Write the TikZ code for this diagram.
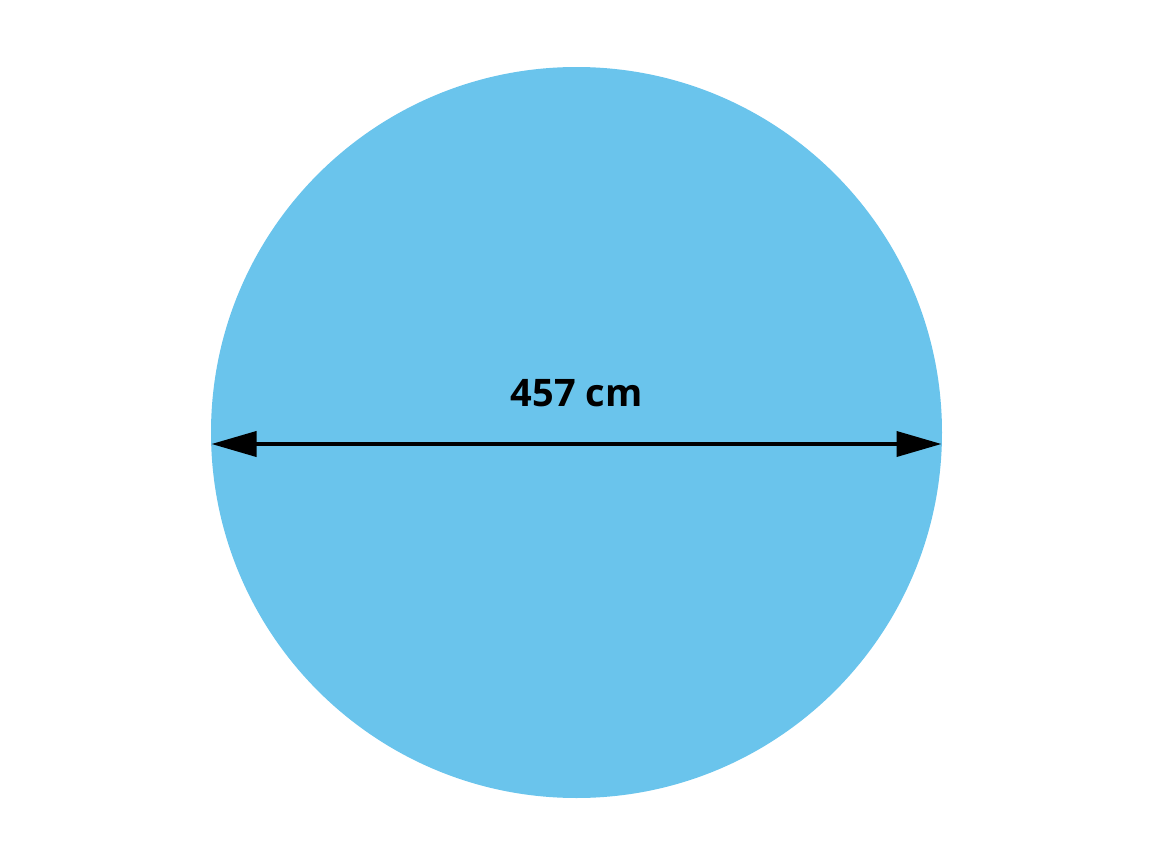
\documentclass[tikz,border=0pt]{standalone}
\usepackage{fontspec}
\setmainfont{Open Sans}
\usepackage{xcolor}
\usetikzlibrary{arrows.meta}
\definecolor{poolblue}{HTML}{6AC4EC}

\begin{document}
\begin{tikzpicture}
            \useasboundingbox (0,0) rectangle (11.54,8.65);

            \node[circle, fill=poolblue, minimum size=7.31cm, inner sep=0pt] (pool) at (5.765,4.325) {};

            \coordinate (left) at (2.115,4.21);
            \coordinate (right) at (9.415,4.21);

            \draw[{Triangle[length=4.5mm,width=2.5mm]}-{Triangle[length=4.5mm,width=2.5mm]}, line width=1.1pt] (left) -- (right);

            \node[font=\bfseries\fontsize{10.8}{13}\selectfont] (size) at (5.765,4.72) {457 cm};
        \end{tikzpicture}
\end{document}
